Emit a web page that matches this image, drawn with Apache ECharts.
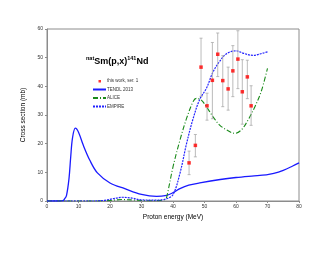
<!DOCTYPE html>
<html><head><meta charset="utf-8">
<script src="https://cdn.jsdelivr.net/npm/echarts@6/dist/echarts.min.js"></script>
<style>html,body{margin:0;padding:0;background:#fff}#c{width:330px;height:255px}</style>
</head><body><div id="c"></div>
<script>
// experimental data: energy, value, error low, error high
const expE   = [45.1, 47.1, 48.9, 50.8, 52.5, 54.2, 55.8, 57.5, 59.0, 60.6, 62.0, 63.6, 64.8];
const expY   = [13.3, 19.4, 46.7, 33.2, 42.1, 51.2, 42.0, 39.1, 45.4, 49.5, 38.1, 43.3, 33.2];
const expLo  = [9.2, 15.4, 36.5, 28.2, 28.7, 43.4, 32.9, 31.7, 36.4, 39.2, 26.8, 35.7, 26.4];
const expHi  = [17.4, 23.2, 56.8, 37.6, 55.3, 58.6, 50.7, 46.7, 54.2, 59.4, 49.3, 49.1, 40.2];

const tendlE = [0, 4, 5, 5.5, 6.2, 7, 7.5, 8.1, 9, 10, 11.5, 13.6, 16, 20, 24.7, 30, 34.8, 38, 40, 42.2, 45, 48.5, 55, 60, 65, 69.6, 72, 75, 78, 80];
const tendlY = [0, 0, 0.1, 0.6, 2, 8, 15, 22, 25.4, 24, 19.5, 14.2, 9.8, 6.3, 4.3, 2.3, 1.6, 2.0, 2.9, 4.3, 5.5, 6.3, 7.5, 8.2, 8.7, 9.1, 9.6, 10.7, 12.2, 13.3];

const aliceE = [0, 15, 20, 24, 28, 32, 36, 37.5, 38, 40, 42.2, 44.3, 46.4, 47.4, 49, 50.6, 52.7, 54.8, 57, 59.6, 61.7, 63.8, 66, 68, 70];
const aliceY = [0, 0, 0.2, 0.5, 0.3, 0.1, 0.2, 0.6, 1.4, 11.9, 21.2, 28.8, 34.7, 35.8, 35.2, 32.9, 29.4, 26.5, 24.8, 23.6, 24.8, 28.2, 32.9, 38.2, 46.3];

const empE = [0, 15, 18, 21, 24, 27, 30, 35, 37, 38, 40, 42.2, 44.3, 46.4, 48.5, 50.6, 52.7, 54.8, 57, 60.1, 62.2, 65.4, 68.6, 70.2];
const empY = [0, 0, 0.2, 0.8, 1.3, 1.0, 0.4, 0.3, 0.5, 0.8, 2.2, 9.6, 20, 28.8, 35.5, 39.3, 45, 48.7, 51.4, 52.4, 51.6, 50.8, 51.6, 52.1];

const xTicks = [0, 10, 20, 30, 40, 50, 60, 70, 80];
const yTicks = [0, 10, 20, 30, 40, 50, 60];

const zip = (a, b) => a.map((v, i) => [v, b[i]]);
const font = 'Liberation Sans, Arial, sans-serif';

const chart = echarts.init(document.getElementById('c'), null, {renderer: 'canvas'});
chart.setOption({
  animation: false,
  backgroundColor: '#fff',
  grid: {left: 47, right: 31, top: 29, bottom: 54, show: true, borderColor: '#8c8c8c', borderWidth: 1},
  title: {
    text: '{s|nat}{b|Sm(p,x)}{s|141}{b|Nd}',
    left: 81, top: 50,
    textStyle: {
      rich: {
        b: {fontSize: 9, fontWeight: 'bold', fontFamily: font, color: '#000', lineHeight: 13},
        s: {fontSize: 5.5, fontWeight: 'bold', fontFamily: font, color: '#000', verticalAlign: 'top', lineHeight: 13, padding: [0, 0, 4, 0]}
      }
    }
  },
  legend: {
    orient: 'vertical', left: 87, top: 73.5, itemGap: 3.5, itemWidth: 13, itemHeight: 5,
    data: [
      {name: 'this work, ser. 1', icon: 'path://M0,0L0,0M13,5L13,5M5.5,1.5h2.5v2.5h-2.5z', itemStyle: {color: '#ff0000'}},
      {name: 'TENDL 2013', itemStyle: {opacity: 0}},
      {name: 'ALICE', itemStyle: {opacity: 0}},
      {name: 'EMPIRE', itemStyle: {opacity: 0}}
    ],
    textStyle: {fontSize: 4.5, fontFamily: font, color: '#333', padding: [0, 0, 0, -4]}
  },
  xAxis: {
    type: 'value', min: 0, max: 80, interval: 10,
    name: 'Proton energy (MeV)', nameLocation: 'middle', nameGap: 13,
    nameTextStyle: {fontSize: 6.5, fontFamily: font, color: '#000'},
    axisLine: {lineStyle: {color: '#8c8c8c'}},
    axisTick: {show: true, length: 2, lineStyle: {color: '#8c8c8c'}},
    axisLabel: {fontSize: 5, fontFamily: font, color: '#333', margin: 3,
      formatter: v => xTicks.includes(v) ? String(v) : ''},
    splitLine: {show: false}
  },
  yAxis: {
    type: 'value', min: 0, max: 60, interval: 10,
    name: 'Cross section (mb)', nameLocation: 'middle', nameGap: 14, nameRotate: 90,
    nameTextStyle: {fontSize: 6.5, fontFamily: font, color: '#000'},
    axisLine: {show: true, lineStyle: {color: '#8c8c8c'}},
    axisTick: {show: true, length: 2, lineStyle: {color: '#8c8c8c'}},
    axisLabel: {fontSize: 5, fontFamily: font, color: '#333', margin: 4,
      formatter: v => yTicks.includes(v) ? String(v) : ''},
    splitLine: {show: false}
  },
  series: [
    {
      name: 'TENDL 2013', type: 'line', data: zip(tendlE, tendlY), smooth: 0.35,
      showSymbol: false, symbol: 'none', lineStyle: {color: '#1a1aff', width: 1.3},
      itemStyle: {color: '#1a1aff'}, z: 3
    },
    {
      name: 'ALICE', type: 'line', data: zip(aliceE, aliceY), smooth: 0.35,
      showSymbol: false, symbol: 'none', lineStyle: {color: '#1a8a1a', width: 1.1, type: [5, 2, 1, 2]},
      itemStyle: {color: '#1a8a1a'}, z: 3
    },
    {
      name: 'EMPIRE', type: 'line', data: zip(empE, empY), smooth: 0.35,
      showSymbol: false, symbol: 'none', lineStyle: {color: '#2222ff', width: 1.2, type: [2, 1]},
      itemStyle: {color: '#2222ff'}, z: 3
    },
    {
      type: 'custom', name: 'err', z: 4,
      data: expE.map((e, i) => [e, expLo[i], expHi[i]]),
      renderItem: (params, api) => {
        const lo = api.coord([api.value(0), api.value(1)]);
        const hi = api.coord([api.value(0), api.value(2)]);
        const w = 1.5;
        const st = {stroke: '#aaaaaa', lineWidth: 0.8};
        return {type: 'group', children: [
          {type: 'line', shape: {x1: lo[0], y1: lo[1], x2: hi[0], y2: hi[1]}, style: st},
          {type: 'line', shape: {x1: lo[0]-w, y1: lo[1], x2: lo[0]+w, y2: lo[1]}, style: st},
          {type: 'line', shape: {x1: hi[0]-w, y1: hi[1], x2: hi[0]+w, y2: hi[1]}, style: st}
        ]};
      }
    },
    {
      name: 'this work, ser. 1', type: 'scatter', data: zip(expE, expY),
      symbol: 'rect', symbolSize: 3.5, itemStyle: {color: '#ff0000'}, z: 5
    }
  ]
});
</script></body></html>
